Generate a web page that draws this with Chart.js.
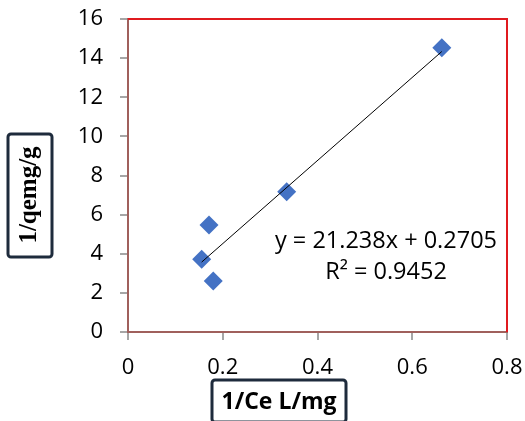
<!DOCTYPE html>
<html>
<head>
<meta charset="utf-8">
<script src="https://cdn.jsdelivr.net/npm/chart.js@4.4.1/dist/chart.umd.min.js"></script>
<style>
  html, body { margin: 0; padding: 0; background: #ffffff; }
  #wrap { width: 525px; height: 421px; position: relative; }
</style>
</head>
<body>
<div id="wrap"><canvas id="c" width="525" height="421"></canvas></div>
<script>
// ---- data ----
const xValues = [0.1555, 0.171, 0.180, 0.335, 0.6624];
const yValues = [3.72, 5.47, 2.61, 7.17, 14.53];
const trendSlope = 21.238;
const trendIntercept = 0.2705;
const equationText = "y = 21.238x + 0.2705";
const r2Text = "R² = 0.9452";
const xTitle = "1/Ce L/mg";
const yTitle = "1/qemg/g";
const xTicks = [0, 0.2, 0.4, 0.6, 0.8];
const yTicks = [0, 2, 4, 6, 8, 10, 12, 14, 16];

const points = xValues.map((x, i) => ({ x: x, y: yValues[i] }));
const xMin = Math.min(...xValues), xMax = Math.max(...xValues);
const trendPoints = [
  { x: xMin, y: trendSlope * xMin + trendIntercept },
  { x: xMax, y: trendSlope * xMax + trendIntercept }
];

const FONT = "'Open Sans', 'Noto Sans', sans-serif";
const AREA = { left: 128, top: 19, right: 507, bottom: 332 };

const decorPlugin = {
  id: 'decor',
  afterDraw(chart) {
    const ctx = chart.ctx;
    const a = chart.chartArea;
    ctx.save();
    // red plot frame (top and right)
    ctx.strokeStyle = '#e01a1f';
    ctx.lineWidth = 2;
    ctx.beginPath();
    ctx.moveTo(a.left, a.top);
    ctx.lineTo(a.right, a.top);
    ctx.lineTo(a.right, a.bottom);
    ctx.stroke();

    // equation text
    ctx.fillStyle = '#000000';
    ctx.font = "23.5px " + FONT;
    ctx.textAlign = 'center';
    ctx.textBaseline = 'alphabetic';
    ctx.fillText(equationText, 386, 248);
    ctx.fillText(r2Text, 386, 279);

    // x axis title in box
    ctx.strokeStyle = '#1e2b3c';
    ctx.lineWidth = 3;
    ctx.beginPath();
    ctx.roundRect(212, 380, 134, 42, 3);
    ctx.stroke();
    ctx.font = "bold 23px " + FONT;
    ctx.fillStyle = '#000000';
    ctx.textAlign = 'center';
    ctx.fillText(xTitle, 279, 409);

    // y axis title in box
    ctx.beginPath();
    ctx.roundRect(8, 134, 44, 123, 3);
    ctx.stroke();
    ctx.save();
    ctx.translate(30, 195);
    ctx.rotate(-Math.PI / 2);
    ctx.font = "bold 25px 'Liberation Serif', 'DejaVu Serif', serif";
    ctx.textAlign = 'center';
    ctx.textBaseline = 'middle';
    ctx.fillText(yTitle, 0, 0);
    ctx.restore();
    ctx.restore();
  }
};

// force the plot area to the reference position
const areaPlugin = {
  id: 'area',
  afterLayout(chart) {
    const a = chart.chartArea;
    const xs = chart.scales.x, ys = chart.scales.y;
    a.left = AREA.left; a.right = AREA.right; a.top = AREA.top; a.bottom = AREA.bottom;
    a.width = a.right - a.left; a.height = a.bottom - a.top;
    xs.left = AREA.left; xs.right = AREA.right; xs.width = AREA.right - AREA.left;
    xs.top = AREA.bottom; xs.bottom = 421;
    ys.top = AREA.top; ys.bottom = AREA.bottom; ys.height = AREA.bottom - AREA.top;
    ys.left = 0; ys.right = AREA.left;
    xs.configure(); ys.configure();
  }
};

new Chart(document.getElementById('c'), {
  data: {
    datasets: [
      {
        type: 'scatter',
        label: 'data',
        data: points,
        pointStyle: 'rectRot',
        pointRadius: 9.5,
        pointHoverRadius: 9.5,
        backgroundColor: '#4472c4',
        borderColor: '#4472c4',
        borderWidth: 0,
        order: 1
      },
      {
        type: 'line',
        label: 'trend',
        data: trendPoints,
        borderColor: '#000000',
        borderWidth: 1,
        pointRadius: 0,
        fill: false,
        order: 0
      }
    ]
  },
  options: {
    responsive: false,
    animation: false,
    events: [],
    layout: { padding: 0 },
    plugins: {
      legend: { display: false },
      tooltip: { enabled: false },
      title: { display: false }
    },
    scales: {
      x: {
        type: 'linear',
        min: 0, max: 0.8,
        afterBuildTicks(scale) { scale.ticks = xTicks.map(v => ({ value: v })); },
        ticks: {
          color: '#000000',
          font: { family: FONT, size: 22 },
          padding: 15,
          maxRotation: 0,
          callback: (v) => String(v)
        },
        grid: { drawOnChartArea: false, drawTicks: true, tickLength: 8, color: '#a6a6a6', lineWidth: 2 },
        border: { display: true, color: '#a0605c', width: 2 }
      },
      y: {
        type: 'linear',
        min: 0, max: 16,
        afterBuildTicks(scale) { scale.ticks = yTicks.map(v => ({ value: v })); },
        ticks: {
          color: '#000000',
          font: { family: FONT, size: 22 },
          padding: 17,
          callback: (v) => String(v)
        },
        grid: { drawOnChartArea: false, drawTicks: true, tickLength: 8, color: '#a6a6a6', lineWidth: 2 },
        border: { display: true, color: '#a0605c', width: 2 }
      }
    }
  },
  plugins: [areaPlugin, decorPlugin]
});
</script>
</body>
</html>
